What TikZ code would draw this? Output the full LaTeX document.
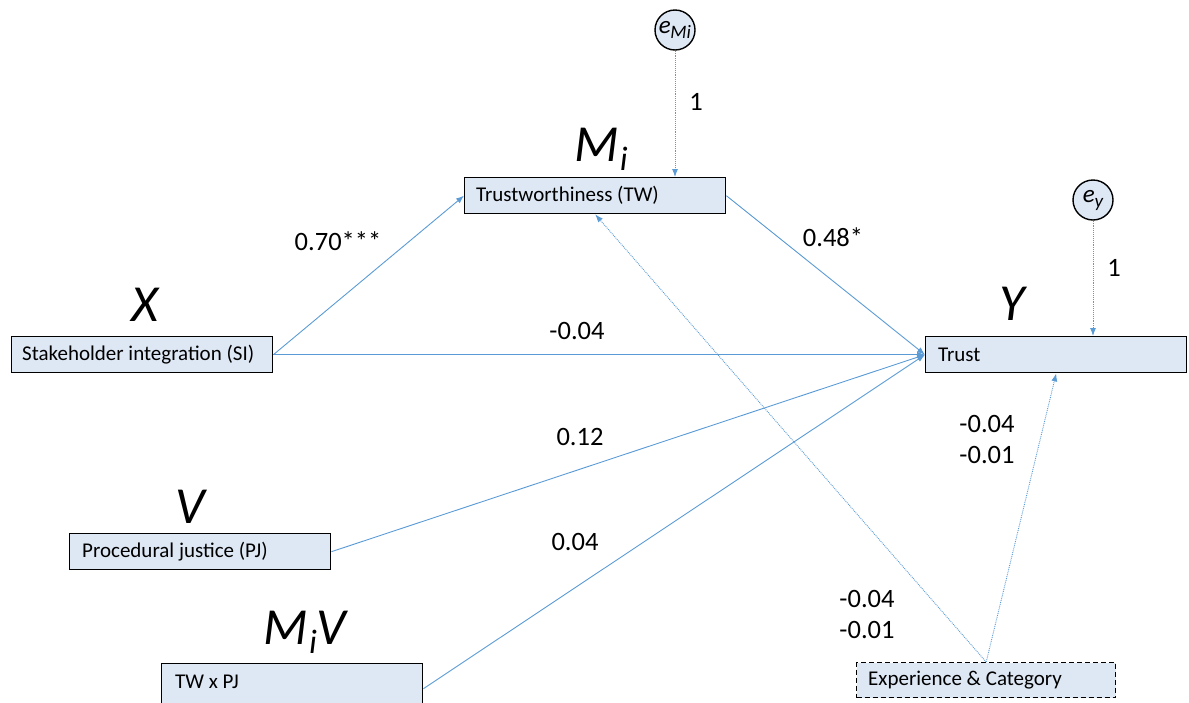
\documentclass[tikz,border=0pt]{standalone}
\usepackage{fontspec}
\setmainfont{Carlito}
\usetikzlibrary{arrows.meta}
\definecolor{boxfill}{HTML}{DEE8F5}
\definecolor{arr}{HTML}{5B9BD5}
\begin{document}
\begin{tikzpicture}[x=1pt,y=-1pt,
 box/.style={draw=black, line width=1.4pt, fill=boxfill, minimum width=261pt, minimum height=36pt, anchor=north west, inner sep=0pt},
 boxtext/.style={font=\fontsize{21}{25}\selectfont, anchor=west, inner sep=0pt},
 coef/.style={font=\fontsize{26.5}{31}\selectfont, inner sep=0pt, align=left},
 big/.style={font=\fontsize{52}{60}\selectfont\itshape, inner sep=0pt},
 conn/.style={draw=arr, line width=0.9pt, -{Latex[length=8pt,width=6pt]}},
 dconn/.style={conn, densely dotted},
 err/.style={circle, draw=black, line width=1.4pt, fill=boxfill, minimum size=40pt, inner sep=0pt, font=\fontsize{25}{29}\selectfont\itshape}
]
\useasboundingbox (0,0) rectangle (1189,702);
% boxes
\node[box] (tw) at (464,177) {};
\node[boxtext] (twt) at ([xshift=12pt]tw.west) {Trustworthiness (TW)};
\node[box] (si) at (11,336) {};
\node[boxtext] (sit) at ([xshift=11pt]si.west) {Stakeholder integration (SI)};
\node[box] (tr) at (925,336) {};
\node[boxtext] (trt) at ([xshift=13pt]tr.west) {Trust};
\node[box] (pj) at (69,533) {};
\node[boxtext] (pjt) at ([xshift=13pt]pj.west) {Procedural justice (PJ)};
\node[box, minimum height=50pt] (tp) at (161,663) {};
\node[boxtext] (tpt) at (175,682) {TW x PJ};
\node[box, dash pattern=on 5pt off 3pt, minimum width=259pt, minimum height=35pt] (ex) at (856,662) {};
\node[boxtext] (ext) at ([xshift=12pt]ex.west) {Experience \& Category};
% error terms
\node[err] (em) at (675,30) {e\kern-0.5pt\raisebox{-5pt}{\fontsize{19}{22}\selectfont Mi}};
\node[err] (ey) at (1093,200) {e\raisebox{-5pt}{\fontsize{19}{22}\selectfont y}};
% big labels
\node[big] (lx) at (145,305) {X};
\node[big] (lm) at (601,149) {M\kern1pt\raisebox{-9pt}{\fontsize{34}{40}\selectfont i}};
\node[big] (ly) at (1012,304) {Y};
\node[big] (lv) at (190,507) {V};
\node[big] (lmv) at (305,632) {M\kern1pt\raisebox{-9pt}{\fontsize{34}{40}\selectfont i}V};
% connectors
\draw[conn] (si.east) -- (tw.west);
\draw[conn] (tw.east) -- (tr.west);
\draw[conn] (si.east) -- (tr.west);
\draw[conn] (pj.east) -- (tr.west);
\draw[conn] (tp.east) -- (tr.west);
\draw[dconn] (em.south) -- (em.south |- tw.north);
\draw[dconn] (ey.south) -- (ey.south |- tr.north);
\draw[dconn] (ex.north) -- (tw.south);
\draw[dconn] (ex.north) -- (tr.south);
% coefficients
\node[coef] (c1) at (696,102) {1};
\node[coef] (c2) at (1114,268) {1};
\node[coef] (c3) at (338,241) {0.70***};
\node[coef] (c4) at (833,237) {0.48*};
\node[coef] (c5) at (577,331) {-0.04};
\node[coef] (c6) at (580,437) {0.12};
\node[coef] (c7) at (575,542) {0.04};
\node[coef] (c8) at (987,439) {-0.04\\-0.01};
\node[coef] (c9) at (867,614) {-0.04\\-0.01};
\end{tikzpicture}
\end{document}
